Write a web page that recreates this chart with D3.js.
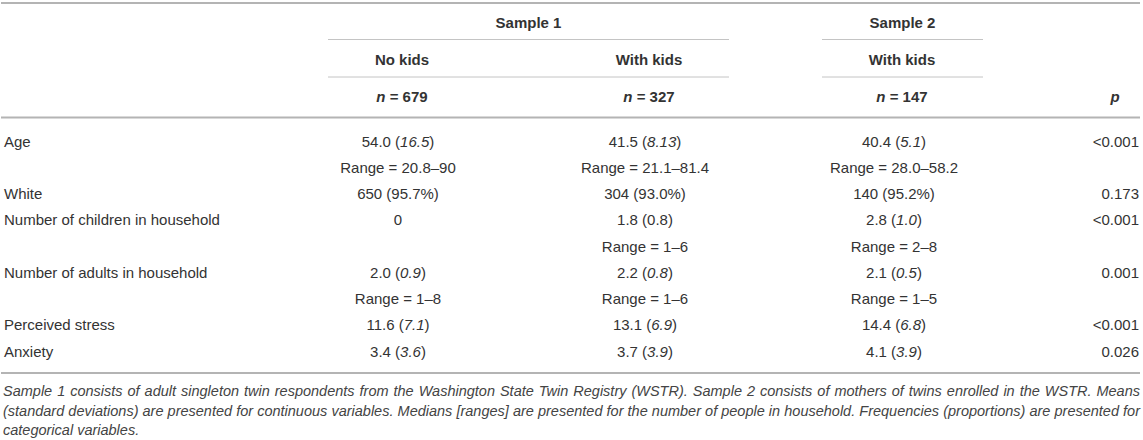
<!doctype html>
<meta charset="utf-8" />
<style>
    body {
        margin: 0;
        background: #fff;
    }
    text {
        font-family: "Liberation Sans", Arial, Helvetica, sans-serif;
        fill: #333;
    }
</style>
<svg></svg>

<script src="https://cdn.jsdelivr.net/npm/d3@7"></script>
<script>
    // table content, *...* marks italic parts
    var groups = ['Sample 1', 'Sample 2'];
    var columns = ['No kids', 'With kids', 'With kids'];
    var sizes = ['679', '327', '147'];

    var rowLabels = ['Age', '', 'White', 'Number of children in household', '',
        'Number of adults in household', '', 'Perceived stress', 'Anxiety'];
    var noKids = ['54.0 (*16.5*)', 'Range = 20.8–90', '650 (95.7%)', '0', '',
        '2.0 (*0.9*)', 'Range = 1–8', '11.6 (*7.1*)', '3.4 (*3.6*)'];
    var withKids1 = ['41.5 (*8.13*)', 'Range = 21.1–81.4', '304 (93.0%)', '1.8 (0.8)', 'Range = 1–6',
        '2.2 (*0.8*)', 'Range = 1–6', '13.1 (*6.9*)', '3.7 (*3.9*)'];
    var withKids2 = ['40.4 (*5.1*)', 'Range = 28.0–58.2', '140 (95.2%)', '2.8 (*1.0*)', 'Range = 2–8',
        '2.1 (*0.5*)', 'Range = 1–5', '14.4 (*6.8*)', '4.1 (*3.9*)'];
    var pValues = ['<0.001', '', '0.173', '<0.001', '', '0.001', '', '<0.001', '0.026'];

    var note = 'Sample 1 consists of adult singleton twin respondents from the Washington State Twin Registry (WSTR). ' +
        'Sample 2 consists of mothers of twins enrolled in the WSTR. Means|(standard deviations) are presented for ' +
        'continuous variables. Medians [ranges] are presented for the number of people in household. Frequencies ' +
        '(proportions) are presented for|categorical variables.';

    var W = 1143, H = 440;
    var left = 3, right = 1140;

    var svg = d3.select('svg')
        .attr('width', W)
        .attr('height', H)

    // column positions
    var xHead = d3.scaleOrdinal().domain([0, 1, 2]).range([402, 649, 902]);
    var xBody = d3.scaleOrdinal().domain([0, 1, 2]).range([398, 645, 894]);
    var xGroup = d3.scaleOrdinal().domain(groups).range([[328, 729], [822, 983]]);

    var y = d3.scalePoint()
        .domain(d3.range(rowLabels.length))
        .range([141.5, 351.5]);

    function rule(x1, x2, yy, w, c) {
        svg.append('line')
            .attr('x1', x1).attr('x2', x2)
            .attr('y1', yy).attr('y2', yy)
            .style('stroke', c)
            .style('stroke-width', w)
    }

    function rich(sel, str) {
        str.split('*').forEach(function (part, i) {
            if (!part) return;
            sel.append('tspan')
                .style('font-style', i % 2 ? 'italic' : 'normal')
                .text(part);
        });
    }

    // rules
    rule(1, right, 3, 2, '#b4b4b4');
    groups.forEach(function (g) {
        var r = xGroup(g);
        rule(r[0], r[1], 39.5, 1, '#c4c4c4');
        rule(r[0], r[1], 77, 1, '#c4c4c4');
    });
    rule(1, right, 117.5, 2, '#b4b4b4');
    rule(1, right, 373, 2, '#b4b4b4');

    // header
    svg.selectAll('.grp')
        .data(groups)
        .enter().append('text')
        .attr('x', function (d) { var r = xGroup(d); return (r[0] + r[1]) / 2; })
        .attr('y', 28)
        .attr('text-anchor', 'middle')
        .style('font-size', '15px')
        .style('font-weight', 'bold')
        .text(function (d) { return d; });

    svg.selectAll('.col')
        .data(columns)
        .enter().append('text')
        .attr('x', function (d, i) { return xHead(i); })
        .attr('y', 64.5)
        .attr('text-anchor', 'middle')
        .style('font-size', '15px')
        .style('font-weight', 'bold')
        .text(function (d) { return d; });

    svg.selectAll('.n')
        .data(sizes)
        .enter().append('text')
        .attr('x', function (d, i) { return xHead(i); })
        .attr('y', 102)
        .attr('text-anchor', 'middle')
        .style('font-size', '15px')
        .style('font-weight', 'bold')
        .each(function (d) { rich(d3.select(this), '*n* = ' + d); });

    svg.append('text')
        .attr('x', 1115)
        .attr('y', 102)
        .attr('text-anchor', 'middle')
        .style('font-size', '15px')
        .style('font-weight', 'bold')
        .style('font-style', 'italic')
        .text('p');

    // body
    svg.selectAll('.lab')
        .data(rowLabels)
        .enter().append('text')
        .attr('x', 4)
        .attr('y', function (d, i) { return y(i) + 5; })
        .style('font-size', '15px')
        .text(function (d) { return d; });

    [noKids, withKids1, withKids2].forEach(function (col, c) {
        svg.selectAll('.c' + c)
            .data(col)
            .enter().append('text')
            .attr('x', xBody(c))
            .attr('y', function (d, i) { return y(i) + 5; })
            .attr('text-anchor', 'middle')
            .style('font-size', '15px')
            .each(function (d) { rich(d3.select(this), d); });
    });

    svg.selectAll('.pv')
        .data(pValues)
        .enter().append('text')
        .attr('x', 1139)
        .attr('y', function (d, i) { return y(i) + 5; })
        .attr('text-anchor', 'end')
        .style('font-size', '15px')
        .text(function (d) { return d; });

    // footnote, justified by hand
    var noteLines = note.split('|');
    noteLines.forEach(function (line, li) {
        var yy = 396 + li * 19.5;
        var words = line.split(' ');
        var g = svg.append('g');
        var nodes = words.map(function (w) {
            return g.append('text')
                .attr('y', yy)
                .style('font-size', '14.5px')
                .style('font-style', 'italic')
                .style('fill', '#444')
                .text(w);
        });
        var widths = nodes.map(function (n) { return n.node().getComputedTextLength(); });
        var total = d3.sum(widths);
        var last = li === noteLines.length - 1;
        var gap = last ? 4 : (right - left - total) / (words.length - 1);
        var x = left;
        nodes.forEach(function (n, i) {
            n.attr('x', x);
            x += widths[i] + gap;
        });
    });

</script>
